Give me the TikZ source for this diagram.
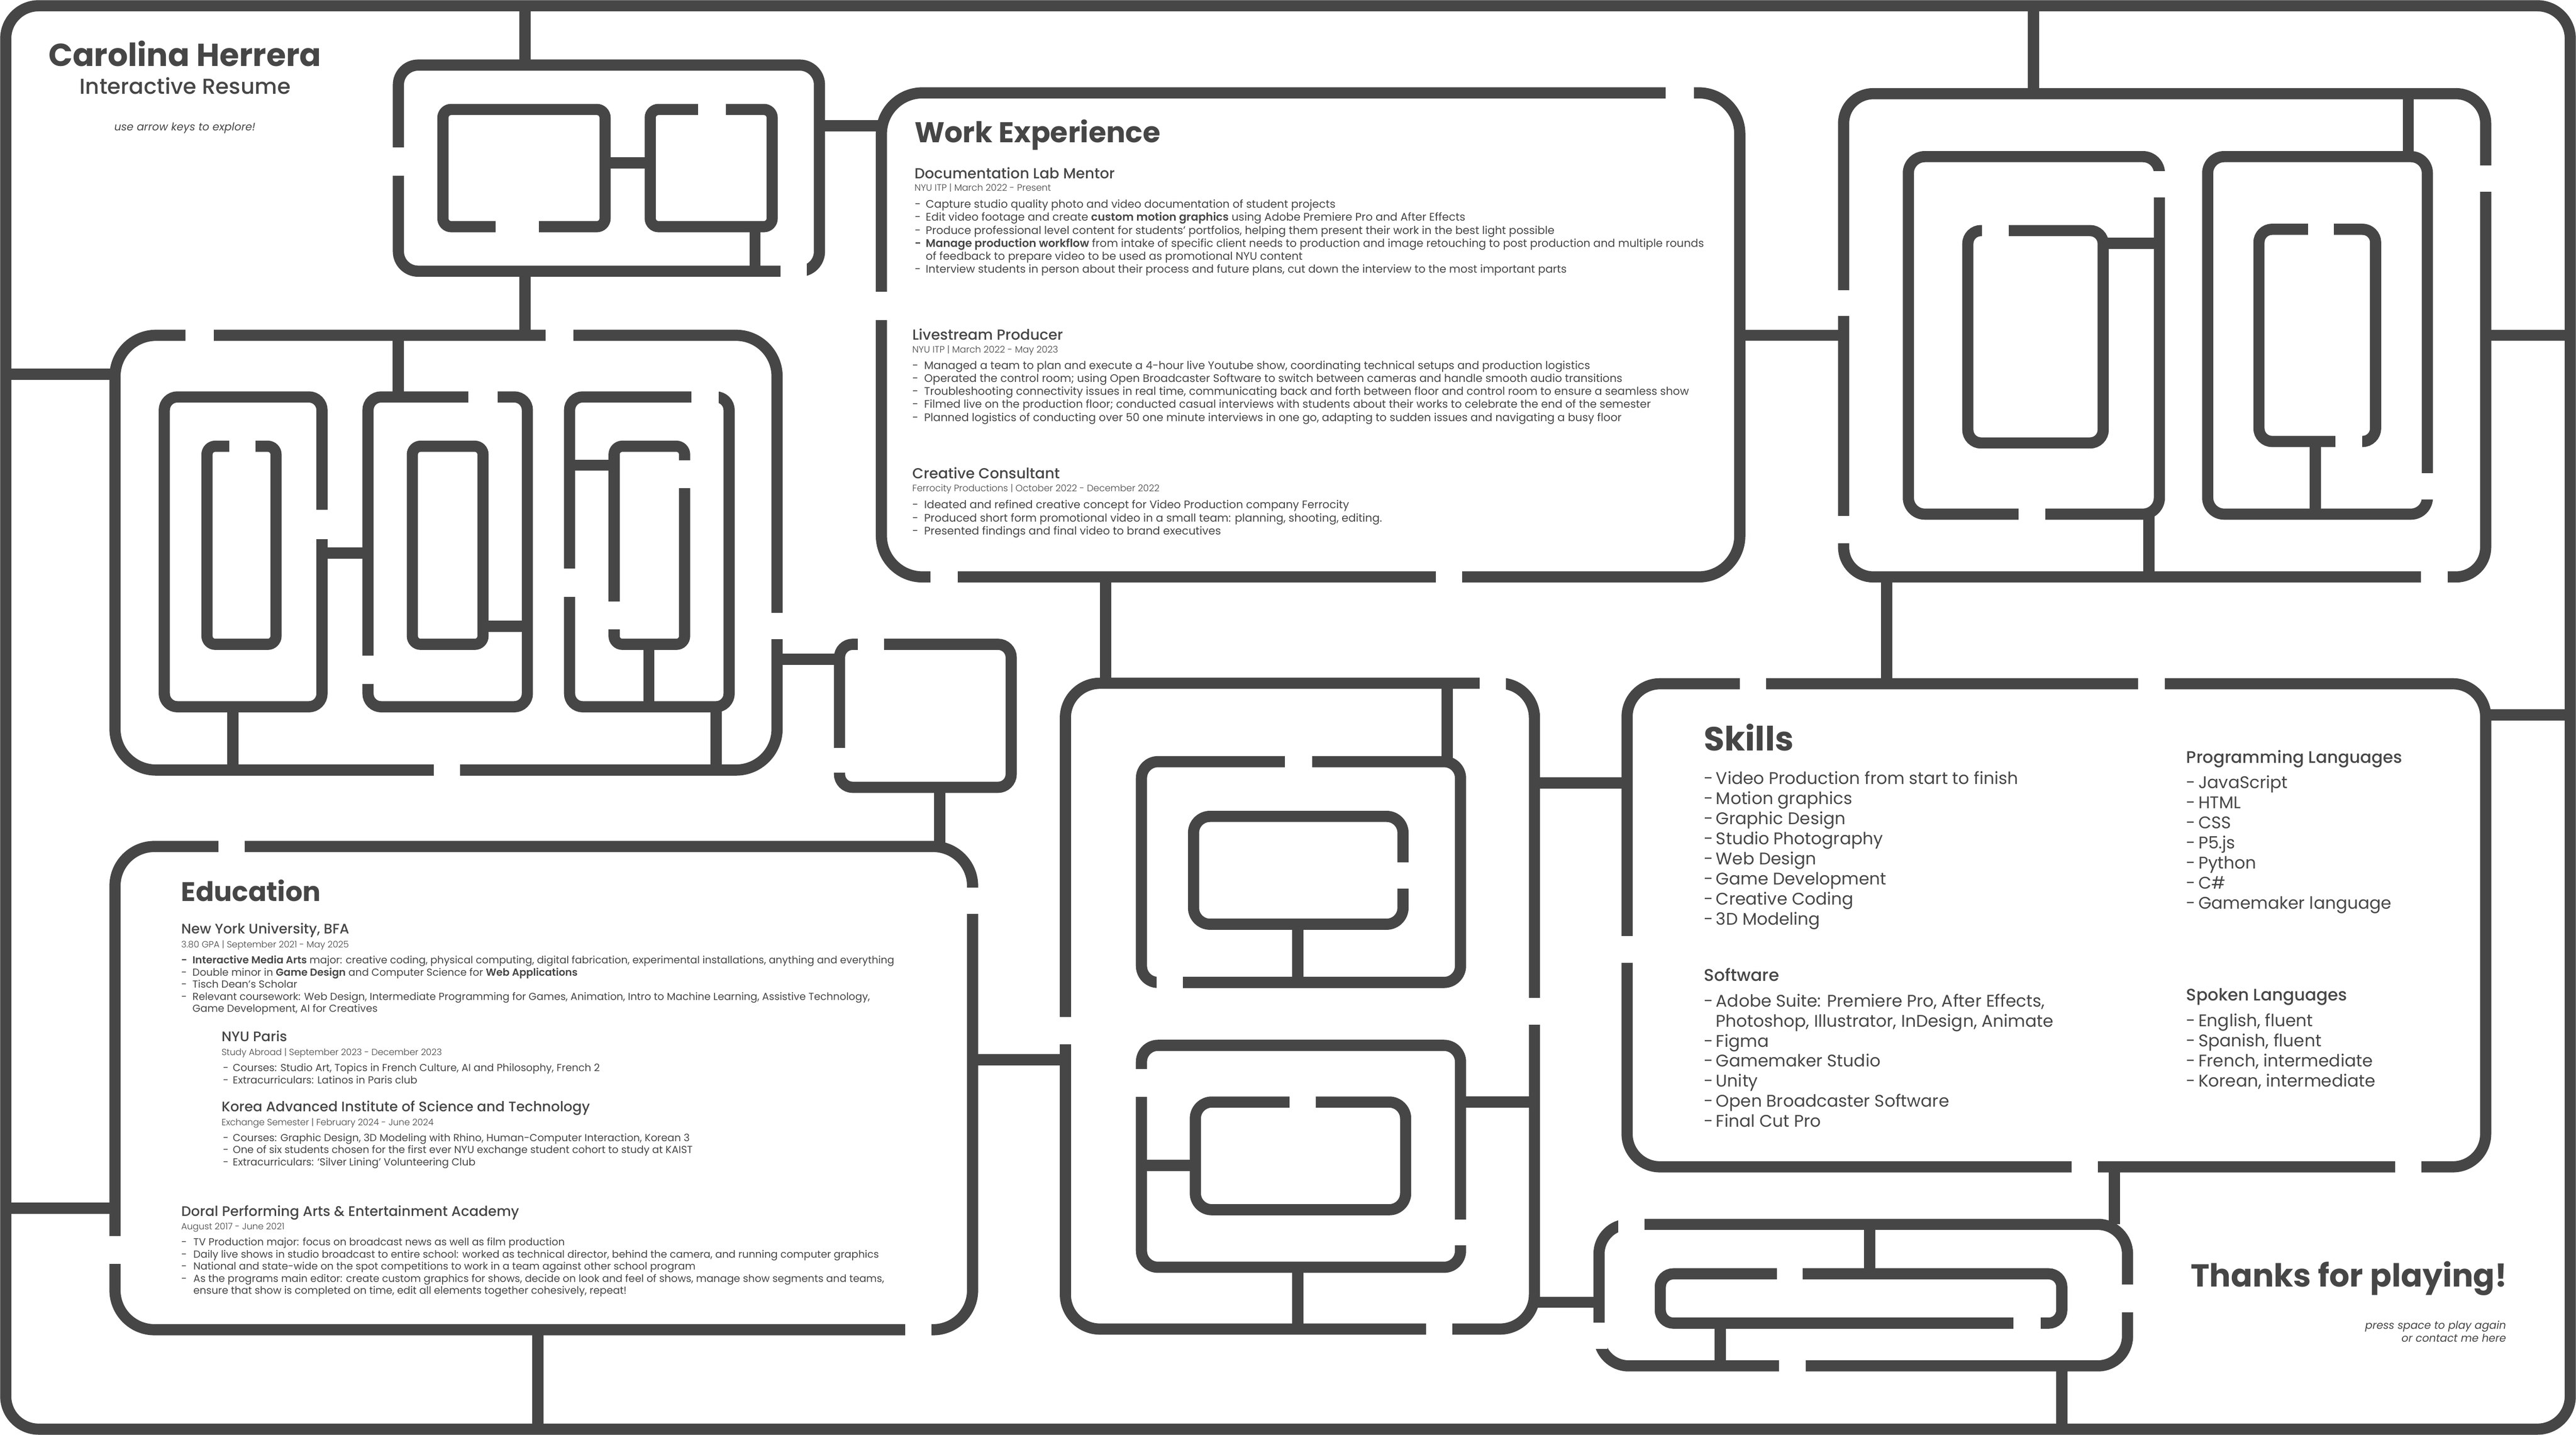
\documentclass[tikz,border=0pt]{standalone}
\usepackage{fontspec}
\setmainfont{Poppins}
\IfFontExistsTF{Poppins SemiBold}{\newfontfamily\popsemi{Poppins SemiBold}}{\newcommand\popsemi{\bfseries}}
\IfFontExistsTF{Poppins Medium}{\newfontfamily\popmed{Poppins Medium}}{\newcommand\popmed{}}
\IfFontExistsTF{Poppins Light}{\newfontfamily\poplight{Poppins Light}}{\newcommand\poplight{}}
\definecolor{maze}{HTML}{464646}
\newcommand{\bul}[1][3.9pt]{\makebox[#1][l]{-}\ignorespaces}

\begin{document}
\begin{tikzpicture}[x=0.2mm, y=-0.2mm,
    wall/.style={draw=maze, line width=1.36mm},
    doorway/.style={fill=white},
    txt/.style={inner sep=0pt, anchor=base west, text=maze}]
    \useasboundingbox (0,0) rectangle (1568,873);
    % outer frame
    \draw[wall, rounded corners=4mm] (3.5,3.5) rectangle (1564.5,869.5);

    % top left maze
    \draw[wall, rounded corners=2.4mm] (242.5,39.6) rectangle (498.8,165);
    \draw[wall, rounded corners=1mm] (269.6,66.6) rectangle (368.3,137.9);
    \draw[wall, rounded corners=1mm] (395.8,66.6) rectangle (470,137.9);
    \draw[wall] (319.6,3.5) -- (319.6,39.6);
    \draw[wall] (319.6,165) -- (319.6,204);
    \draw[wall] (368.3,99) -- (395.8,99);
    \draw[wall] (459.6,137.9) -- (459.6,165);
    \draw[wall] (498.8,76.5) -- (536.5,76.5);

    % left maze
    \draw[wall, rounded corners=5mm] (70,204) rectangle (473,468.5);
    \draw[wall, rounded corners=1.6mm] (100,241.5) rectangle (196,430);
    \draw[wall, rounded corners=1mm] (126,271.5) rectangle (168,392);
    \draw[wall, rounded corners=1.6mm] (224,241.5) rectangle (321,430);
    \draw[wall, rounded corners=1mm] (251,271.5) rectangle (294,392);
    \draw[wall, rounded corners=1.6mm] (346.7,241.5) rectangle (443.8,430);
    \draw[wall, rounded corners=1mm] (373.8,271.5) rectangle (416.7,392);
    \draw[wall] (3.5,227.6) -- (70,227.6);
    \draw[wall] (242.5,204) -- (242.5,241.5);
    \draw[wall] (196,336.5) -- (224,336.5);
    \draw[wall] (294,381) -- (321,381);
    \draw[wall] (346.7,283) -- (373.8,283);
    \draw[wall] (395,392) -- (395,430);
    \draw[wall] (141.7,430) -- (141.7,468.5);
    \draw[wall] (436,430) -- (436,468.5);
    \draw[wall] (473,401) -- (511,401);

    % small box
    \draw[wall, rounded corners=1.6mm] (511,392) rectangle (615.5,479);
    \draw[wall] (572,479) -- (572,515);

    % education frame
    \draw[wall, rounded corners=4.8mm] (70,515) rectangle (592,809);
    \draw[wall] (3.5,735) -- (70,735);
    \draw[wall] (327.5,809) -- (327.5,869.5);
    \draw[wall] (592,644.7) -- (648.5,644.7);

    % work frame
    \draw[wall, rounded corners=5mm] (536.5,56.5) rectangle (1059,351);
    \draw[wall] (673,351) -- (673,415.7);
    \draw[wall] (1059,204) -- (1122.2,204);

    % middle maze
    \draw[wall, rounded corners=4.2mm] (648.5,415.7) rectangle (934,808.6);
    \draw[wall, rounded corners=2mm] (694.8,463.4) rectangle (889,597.7);
    \draw[wall, rounded corners=2mm] (726.5,496.7) rectangle (854,562.3);
    \draw[wall, rounded corners=2mm] (694.8,636) rectangle (889,771);
    \draw[wall, rounded corners=2mm] (727.6,670.5) rectangle (855.6,736);
    \draw[wall] (880.8,415.7) -- (880.8,463.4);
    \draw[wall] (790,562.3) -- (790,597.7);
    \draw[wall] (889,670.5) -- (934,670.5);
    \draw[wall] (694.8,709) -- (727.6,709);
    \draw[wall] (790,771) -- (790,808.6);
    \draw[wall] (934,476.3) -- (990.4,476.3);
    \draw[wall] (934,792.3) -- (973.3,792.3);

    % skills frame
    \draw[wall, rounded corners=4mm] (990.4,416) rectangle (1513,709.9);
    \draw[wall] (1513,435) -- (1564.5,435);
    \draw[wall] (1148.4,351) -- (1148.4,416);
    \draw[wall] (1287,709.9) -- (1287,744.9);

    % bottom right maze
    \draw[wall, rounded corners=3.6mm] (973.3,744.9) rectangle (1295,831);
    \draw[wall, rounded corners=1.6mm] (1010.6,775) rectangle (1255,805);
    \draw[wall] (1138,744.9) -- (1138,775);
    \draw[wall] (1047,805) -- (1047,831);
    \draw[wall] (1255,831) -- (1255,869.5);

    % top right maze
    \draw[wall, rounded corners=3.6mm] (1122.2,57) rectangle (1513,351);
    \draw[wall, rounded corners=2mm] (1161.6,95.3) rectangle (1314.4,312.8);
    \draw[wall, rounded corners=1.6mm] (1197.8,140.3) rectangle (1280.2,269.5);
    \draw[wall, rounded corners=2mm] (1343.8,95.3) rectangle (1477.5,312.8);
    \draw[wall, rounded corners=1.6mm] (1375,139.5) rectangle (1446,268.6);
    \draw[wall] (1237.8,3.5) -- (1237.8,57);
    \draw[wall] (1465.9,57) -- (1465.9,95.3);
    \draw[wall] (1280.2,148) -- (1314.4,148);
    \draw[wall] (1409.3,268.6) -- (1409.3,312.8);
    \draw[wall] (1308,312.8) -- (1308,351);
    \draw[wall] (1513,204) -- (1564.5,204);

    % openings
    \fill[doorway] (237,89.7) rectangle (248,107);
    \fill[doorway] (475,160) rectangle (491,170);
    \fill[doorway] (301.7,132.9) rectangle (328,142.9);
    \fill[doorway] (425,61.6) rectangle (441.7,71.6);
    \fill[doorway] (113,199) rectangle (130,209);
    \fill[doorway] (332,199) rectangle (349,209);
    \fill[doorway] (468,373) rectangle (478,389);
    \fill[doorway] (264,463.5) rectangle (280,473.5);
    \fill[doorway] (191,310) rectangle (201,328);
    \fill[doorway] (139.6,266.5) rectangle (155.4,276.5);
    \fill[doorway] (285,236.5) rectangle (303,246.5);
    \fill[doorway] (219,399) rectangle (229,416);
    \fill[doorway] (421,236.5) rectangle (437.5,246.5);
    \fill[doorway] (341.7,346) rectangle (351.7,363);
    \fill[doorway] (411.7,280) rectangle (421.7,297);
    \fill[doorway] (368.8,366) rectangle (378.8,383);
    \fill[doorway] (522,387) rectangle (538,397);
    \fill[doorway] (506,455) rectangle (516,470);
    \fill[doorway] (133,510) rectangle (149,520);
    \fill[doorway] (587,540) rectangle (597,556);
    \fill[doorway] (551,804) rectangle (567,814);
    \fill[doorway] (65,752) rectangle (75,769);
    \fill[doorway] (1014,51.5) rectangle (1031,61.5);
    \fill[doorway] (531.5,177.5) rectangle (541.5,194.6);
    \fill[doorway] (566.5,346) rectangle (583,356);
    \fill[doorway] (874,346) rectangle (890,356);
    \fill[doorway] (900.7,410.7) rectangle (916.7,420.7);
    \fill[doorway] (643.5,618.7) rectangle (653.5,635.4);
    \fill[doorway] (929,607) rectangle (939,623.5);
    \fill[doorway] (868,803.6) rectangle (884,813.6);
    \fill[doorway] (782,458.4) rectangle (798.6,468.4);
    \fill[doorway] (704,592.7) rectangle (720,602.7);
    \fill[doorway] (849,524.6) rectangle (859,540.6);
    \fill[doorway] (689.8,650.4) rectangle (699.8,667.4);
    \fill[doorway] (884,742) rectangle (894,757.8);
    \fill[doorway] (785,665.5) rectangle (801,675.5);
    \fill[doorway] (1059,411) rectangle (1075,421);
    \fill[doorway] (1301.5,411) rectangle (1317.6,421);
    \fill[doorway] (985.4,569.5) rectangle (995.4,585.8);
    \fill[doorway] (1261,704.9) rectangle (1277,714.9);
    \fill[doorway] (1458,704.9) rectangle (1474,714.9);
    \fill[doorway] (985,739.9) rectangle (1001,749.9);
    \fill[doorway] (968.3,804.7) rectangle (978.3,820.8);
    \fill[doorway] (1290,781.6) rectangle (1300,798.4);
    \fill[doorway] (1083,826) rectangle (1099,836);
    \fill[doorway] (1081.6,770) rectangle (1097.3,780);
    \fill[doorway] (1225.6,800) rectangle (1242,810);
    \fill[doorway] (1117.2,176.4) rectangle (1127.2,192.2);
    \fill[doorway] (1117.2,314) rectangle (1127.2,330.6);
    \fill[doorway] (1508,100.6) rectangle (1518,116.7);
    \fill[doorway] (1473.6,346) rectangle (1489.8,356);
    \fill[doorway] (1309.4,104) rectangle (1319.4,120);
    \fill[doorway] (1228.8,307.8) rectangle (1245,317.8);
    \fill[doorway] (1206.5,135.3) rectangle (1222.7,145.3);
    \fill[doorway] (1472.5,288) rectangle (1482.5,304);
    \fill[doorway] (1404.8,134.5) rectangle (1420.7,144.5);
    \fill[doorway] (1421.6,263.6) rectangle (1437.8,273.6);

    % title
    \node[txt, anchor=base, font=\bfseries\fontsize{11}{12}\selectfont] (name) at (112.5,40.4) {Carolina Herrera};
    \node[txt, anchor=base, font=\popmed\fontsize{7.5}{8}\selectfont] (subtitle) at (112.7,57.2) {Interactive Resume};
    \node[txt, anchor=base, font=\itshape\fontsize{3.75}{4.5}\selectfont] (hint) at (112.5,79.4) {use arrow keys to explore!};

    % work experience
    \node[txt, font=\bfseries\fontsize{9.9}{11}\selectfont] (work) at (556.3,86.7) {Work Experience};
    \node[txt, font=\popmed\fontsize{5.05}{6}\selectfont] (mentor) at (556.3,108.6) {Documentation Lab Mentor};
    \node[txt, font=\poplight\fontsize{3.2}{4}\selectfont] (mentormeta) at (556.3,116.2) {NYU ITP | March 2022 - Present};
    \node[txt, font=\fontsize{3.8}{4.5}\selectfont] (mentorlist) at (556.5,126.6) {\begin{tabular}[t]{@{}l@{}}
        \bul[3.8pt] Capture studio quality photo and video documentation of student projects\\
        \bul[3.8pt] Edit video footage and create {\popsemi custom motion graphics} using Adobe Premiere Pro and After Effects\\
        \bul[3.8pt] Produce professional level content for students’ portfolios, helping them present their work in the best light possible\\
        {\popsemi\bul[3.8pt] Manage production workflow} from intake of specific client needs to production and image retouching to post production and multiple rounds\\
        \hspace{3.8pt}of feedback to prepare video to be used as promotional NYU content\\
        \bul[3.8pt] Interview students in person about their process and future plans, cut down the interview to the most important parts
    \end{tabular}};
    \node[txt, font=\popmed\fontsize{5.05}{6}\selectfont] (stream) at (555,206.8) {Livestream Producer};
    \node[txt, font=\poplight\fontsize{3.2}{4}\selectfont] (streammeta) at (555,214.7) {NYU ITP | March 2022 - May 2023};
    \node[txt, font=\fontsize{3.8}{4.5}\selectfont] (streamlist) at (555,224.6) {\begin{tabular}[t]{@{}l@{}}
        \bul[4.1pt] Managed a team to plan and execute a 4-hour live Youtube show, coordinating technical setups and production logistics\\
        \bul[4.1pt] Operated the control room; using Open Broadcaster Software to switch between cameras and handle smooth audio transitions\\
        \bul[4.1pt] Troubleshooting connectivity issues in real time, communicating back and forth between floor and control room to ensure a seamless show\\
        \bul[4.1pt] Filmed live on the production floor; conducted casual interviews with students about their works to celebrate the end of the semester\\
        \bul[4.1pt] Planned logistics of conducting over 50 one minute interviews in one go, adapting to sudden issues and navigating a busy floor
    \end{tabular}};
    \node[txt, font=\popmed\fontsize{5.05}{6}\selectfont] (consult) at (555,291.3) {Creative Consultant};
    \node[txt, font=\poplight\fontsize{3.2}{4}\selectfont] (consultmeta) at (555,299) {Ferrocity Productions | October 2022 - December 2022};
    \node[txt, font=\fontsize{3.8}{4.5}\selectfont] (consultlist) at (555,309.5) {\begin{tabular}[t]{@{}l@{}}
        \bul[4.1pt] Ideated and refined creative concept for Video Production company Ferrocity\\
        \bul[4.1pt] Produced short form promotional video in a small team: planning, shooting, editing.\\
        \bul[4.1pt] Presented findings and final video to brand executives
    \end{tabular}};

    % education
    \node[txt, font=\bfseries\fontsize{9.3}{11}\selectfont] (edu) at (110,548.3) {Education};
    \node[txt, font=\popmed\fontsize{4.8}{5.5}\selectfont] (nyu) at (110,568) {New York University, BFA};
    \node[txt, font=\poplight\fontsize{3.1}{4}\selectfont] (nyumeta) at (110,576.5) {3.80 GPA | September 2021 - May 2025};
    \node[txt, font=\fontsize{3.54}{4.2}\selectfont] (nyulist) at (110,586.3) {\begin{tabular}[t]{@{}l@{}}
        {\popsemi\bul Interactive Media Arts} major: creative coding, physical computing, digital fabrication, experimental installations, anything and everything\\
        \bul Double minor in {\popsemi Game Design} and Computer Science for {\popsemi Web Applications}\\
        \bul Tisch Dean’s Scholar\\
        \bul Relevant coursework: Web Design, Intermediate Programming for Games, Animation, Intro to Machine Learning, Assistive Technology,\\
        \hspace{3.9pt}Game Development, AI for Creatives
    \end{tabular}};
    \node[txt, font=\popmed\fontsize{4.8}{5.5}\selectfont] (paris) at (134.5,633.6) {NYU Paris};
    \node[txt, font=\poplight\fontsize{3.1}{4}\selectfont] (parismeta) at (134.5,642) {Study Abroad | September 2023 - December 2023};
    \node[txt, font=\fontsize{3.54}{4.2}\selectfont] (parislist) at (135.4,651.9) {\begin{tabular}[t]{@{}l@{}}
        \bul[3.4pt] Courses: Studio Art, Topics in French Culture, AI and Philosophy, French 2\\
        \bul[3.4pt] Extracurriculars: Latinos in Paris club
    \end{tabular}};
    \node[txt, font=\popmed\fontsize{4.8}{5.5}\selectfont] (kaist) at (134.5,676.2) {Korea Advanced Institute of Science and Technology};
    \node[txt, font=\poplight\fontsize{3.1}{4}\selectfont] (kaistmeta) at (134.5,684.7) {Exchange Semester | February 2024 - June 2024};
    \node[txt, font=\fontsize{3.54}{4.2}\selectfont] (kaistlist) at (135.4,694.4) {\begin{tabular}[t]{@{}l@{}}
        \bul[3.4pt] Courses: Graphic Design, 3D Modeling with Rhino, Human-Computer Interaction, Korean 3\\
        \bul[3.4pt] One of six students chosen for the first ever NYU exchange student cohort to study at KAIST\\
        \bul[3.4pt] Extracurriculars: ‘Silver Lining’ Volunteering Club
    \end{tabular}};
    \node[txt, font=\popmed\fontsize{4.8}{5.5}\selectfont] (doral) at (110,739.8) {Doral Performing Arts \& Entertainment Academy};
    \node[txt, font=\poplight\fontsize{3.1}{4}\selectfont] (doralmeta) at (110,748.2) {August 2017 - June 2021};
    \node[txt, font=\fontsize{3.54}{4.2}\selectfont] (dorallist) at (110,757.8) {\begin{tabular}[t]{@{}l@{}}
        \bul[4.2pt] TV Production major: focus on broadcast news as well as film production\\
        \bul[4.2pt] Daily live shows in studio broadcast to entire school: worked as technical director, behind the camera, and running computer graphics\\
        \bul[4.2pt] National and state-wide on the spot competitions to work in a team against other school program\\
        \bul[4.2pt] As the programs main editor: create custom graphics for shows, decide on look and feel of shows, manage show segments and teams,\\
        \hspace{4.2pt}ensure that show is completed on time, edit all elements together cohesively, repeat!
    \end{tabular}};

    % skills
    \node[txt, font=\bfseries\fontsize{11.6}{13}\selectfont] (skills) at (1036.9,456.6) {Skills};
    \node[txt, font=\fontsize{5.85}{6.95}\selectfont] (skilllist) at (1036.9,477.2) {\begin{tabular}[t]{@{}l@{}}
        \bul[4.15pt] Video Production from start to finish\\
        \bul[4.15pt] Motion graphics\\
        \bul[4.15pt] Graphic Design\\
        \bul[4.15pt] Studio Photography\\
        \bul[4.15pt] Web Design\\
        \bul[4.15pt] Game Development\\
        \bul[4.15pt] Creative Coding\\
        \bul[4.15pt] 3D Modeling
    \end{tabular}};
    \node[txt, font=\popmed\fontsize{5.85}{7}\selectfont] (software) at (1036.9,596.9) {Software};
    \node[txt, font=\fontsize{5.85}{6.95}\selectfont] (softlist) at (1036.9,612.5) {\begin{tabular}[t]{@{}l@{}}
        \bul[4.15pt] Adobe Suite: Premiere Pro, After Effects,\\
        \hspace{4.15pt}Photoshop, Illustrator, InDesign, Animate\\
        \bul[4.15pt] Figma\\
        \bul[4.15pt] Gamemaker Studio\\
        \bul[4.15pt] Unity\\
        \bul[4.15pt] Open Broadcaster Software\\
        \bul[4.15pt] Final Cut Pro
    \end{tabular}};
    \node[txt, font=\popmed\fontsize{5.8}{7}\selectfont] (proglang) at (1330.5,464.4) {Programming Languages};
    \node[txt, font=\fontsize{5.85}{6.95}\selectfont] (proglist) at (1330.5,479.7) {\begin{tabular}[t]{@{}l@{}}
        \bul[4.15pt] JavaScript\\
        \bul[4.15pt] HTML\\
        \bul[4.15pt] CSS\\
        \bul[4.15pt] P5.js\\
        \bul[4.15pt] Python\\
        \bul[4.15pt] C\#\\
        \bul[4.15pt] Gamemaker language
    \end{tabular}};
    \node[txt, font=\popmed\fontsize{5.8}{7}\selectfont] (spoken) at (1330.5,608.9) {Spoken Languages};
    \node[txt, font=\fontsize{5.85}{6.95}\selectfont] (spokenlist) at (1330.5,624.6) {\begin{tabular}[t]{@{}l@{}}
        \bul[4.15pt] English, fluent\\
        \bul[4.15pt] Spanish, fluent\\
        \bul[4.15pt] French, intermediate\\
        \bul[4.15pt] Korean, intermediate
    \end{tabular}};

    % ending
    \node[txt, anchor=base east, font=\bfseries\fontsize{11}{12}\selectfont] (thanks) at (1526.6,783) {Thanks for playing!};
    \node[txt, anchor=base east, font=\itshape\fontsize{3.73}{4.5}\selectfont] (again) at (1525.8,808.6) {press space to play again};
    \node[txt, anchor=base east, font=\itshape\fontsize{3.73}{4.5}\selectfont] (contact) at (1525.8,816.3) {or contact me here};
\end{tikzpicture}
\end{document}
